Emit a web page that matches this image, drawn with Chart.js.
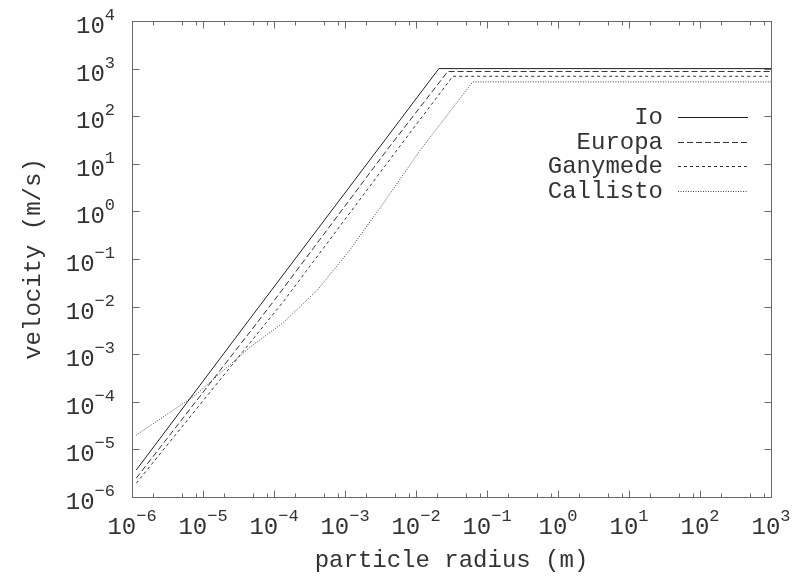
<!DOCTYPE html>
<html>
<head>
<meta charset="utf-8">
<title>particle velocity</title>
<script src="https://cdn.jsdelivr.net/npm/chart.js@4/dist/chart.umd.min.js"></script>
<style>
    html, body { margin: 0; padding: 0; background: #fff; }
</style>
</head>
<body>
<canvas id="chart" width="793" height="578"></canvas>
<script>
// Settling velocity against particle radius, one curve per moon

const ioRadius = [1.15e-6, 4.6e-5, 0.021, 1000];
const ioVelocity = [3.7e-6, 5.6e-3, 1000, 1000];

const europaRadius = [1.15e-6, 4.6e-5, 1.02e-4, 3.9e-3, 0.028, 1000];
const europaVelocity = [2.5e-6, 2.95e-3, 0.0138, 19.5, 870, 870];

const ganymedeRadius = [1.15e-6, 4.6e-5, 1.41e-4, 5.4e-3, 0.033, 1000];
const ganymedeVelocity = [1.95e-6, 1.74e-3, 0.0138, 19.5, 690, 690];

const callistoRadius = [1.15e-6, 7.8e-6, 4.6e-5, 1.35e-4, 4.1e-4, 1.17e-3, 3.5e-3, 0.0115, 0.063, 1000];
const callistoVelocity = [2.0e-5, 1.38e-4, 1.41e-3, 4.6e-3, 0.0224, 0.155, 1.51, 19.5, 525, 525];

// decade exponents for the axis labels
const xTickExps = [-6, -5, -4, -3, -2, -1, 0, 1, 2, 3];
const yTickExps = [-6, -5, -4, -3, -2, -1, 0, 1, 2, 3, 4];
const xMinorSteps = [2, 5, 8];

const seriesNames = ['Io', 'Europa', 'Ganymede', 'Callisto'];

const FONT = '"Liberation Mono", "DejaVu Sans Mono", monospace';
const AXIS_COLOR = '#6a6a6a';

function toPoints(xs, ys) {
    return xs.map((x, i) => ({ x: x, y: ys[i] }));
}

// "10" with a raised exponent, anchored by its left edge
function drawPower(ctx, exp, left, baseline) {
    ctx.font = '24px ' + FONT;
    ctx.fillText('10', left, baseline);
    const w = ctx.measureText('10').width;
    ctx.font = '17px ' + FONT;
    ctx.fillText(String(exp).replace('-', '\u2212'), left + w, baseline - 13);
}

function powerWidth(ctx, exp) {
    ctx.font = '24px ' + FONT;
    const w1 = ctx.measureText('10').width;
    ctx.font = '17px ' + FONT;
    return w1 + ctx.measureText(String(exp).replace('-', '\u2212')).width;
}

// frame, inward ticks, labels, titles and the key
const framePlugin = {
    id: 'frame',
    afterDraw(chart) {
        const ctx = chart.ctx;
        const area = chart.chartArea;
        const xs = chart.scales.x;
        const ys = chart.scales.y;
        const L = Math.round(area.left) + 0.5;
        const R = Math.round(area.right) + 0.5;
        const T = Math.round(area.top) + 0.5;
        const B = Math.round(area.bottom) + 0.5;

        ctx.save();
        ctx.strokeStyle = AXIS_COLOR;
        ctx.lineWidth = 1;
        ctx.setLineDash([]);
        ctx.strokeRect(L, T, R - L, B - T);

        ctx.beginPath();
        xTickExps.forEach(e => {
            const px = Math.round(xs.getPixelForValue(Math.pow(10, e))) + 0.5;
            ctx.moveTo(px, B); ctx.lineTo(px, B - 7);
            ctx.moveTo(px, T); ctx.lineTo(px, T + 7);
            if (e < xTickExps[xTickExps.length - 1]) {
                xMinorSteps.forEach(m => {
                    const mx = Math.round(xs.getPixelForValue(m * Math.pow(10, e))) + 0.5;
                    ctx.moveTo(mx, B); ctx.lineTo(mx, B - 4);
                    ctx.moveTo(mx, T); ctx.lineTo(mx, T + 4);
                });
            }
        });
        yTickExps.forEach(e => {
            const py = Math.round(ys.getPixelForValue(Math.pow(10, e))) + 0.5;
            ctx.moveTo(L, py); ctx.lineTo(L + 7, py);
            ctx.moveTo(R, py); ctx.lineTo(R - 7, py);
        });
        ctx.stroke();

        // tick labels
        ctx.fillStyle = '#333';
        ctx.textBaseline = 'alphabetic';
        ctx.textAlign = 'left';
        xTickExps.forEach(e => {
            const px = xs.getPixelForValue(Math.pow(10, e));
            const w = powerWidth(ctx, e);
            drawPower(ctx, e, px - w / 2, 534);
        });
        yTickExps.forEach(e => {
            const py = ys.getPixelForValue(Math.pow(10, e));
            const w = powerWidth(ctx, e);
            drawPower(ctx, e, 115 - w, py + 12);
        });

        // axis titles
        ctx.font = '24px ' + FONT;
        ctx.textAlign = 'center';
        ctx.textBaseline = 'middle';
        ctx.fillText('particle radius (m)', (area.left + area.right) / 2, 561);
        ctx.save();
        ctx.translate(34, (area.top + area.bottom) / 2);
        ctx.rotate(-Math.PI / 2);
        ctx.fillText('velocity (m/s)', 0, 0);
        ctx.restore();

        // key
        chart.data.datasets.forEach((ds, i) => {
            const rowY = 117 + i * 24.5;
            ctx.font = '24px ' + FONT;
            ctx.textAlign = 'right';
            ctx.textBaseline = 'middle';
            ctx.fillStyle = '#333';
            ctx.fillText(ds.label, 663, rowY + 1);
            ctx.strokeStyle = ds.borderColor;
            ctx.lineWidth = ds.borderWidth;
            ctx.setLineDash(ds.borderDash || []);
            ctx.beginPath();
            ctx.moveTo(678, Math.round(rowY) + 0.5);
            ctx.lineTo(748, Math.round(rowY) + 0.5);
            ctx.stroke();
        });
        ctx.restore();
    }
};

function makeDataset(name, xs, ys, dash, color) {
    return {
        label: name,
        data: toPoints(xs, ys),
        showLine: true,
        borderColor: color,
        borderWidth: 1,
        borderDash: dash,
        pointRadius: 0,
        tension: 0,
        fill: false
    };
}

new Chart(document.getElementById('chart'), {
    type: 'scatter',
    data: {
        datasets: [
            makeDataset(seriesNames[0], ioRadius, ioVelocity, [], '#222'),
            makeDataset(seriesNames[1], europaRadius, europaVelocity, [6, 3], '#333'),
            makeDataset(seriesNames[2], ganymedeRadius, ganymedeVelocity, [3, 3], '#333'),
            makeDataset(seriesNames[3], callistoRadius, callistoVelocity, [1, 1.5], '#444')
        ]
    },
    options: {
        responsive: false,
        animation: false,
        layout: {
            padding: { left: 132, right: 22, top: 21, bottom: 81 }
        },
        plugins: {
            legend: { display: false },
            tooltip: { enabled: false }
        },
        scales: {
            x: { type: 'logarithmic', min: 1e-6, max: 1e3, display: false },
            y: { type: 'logarithmic', min: 1e-6, max: 1e4, display: false }
        }
    },
    plugins: [framePlugin]
});
</script>
</body>
</html>
